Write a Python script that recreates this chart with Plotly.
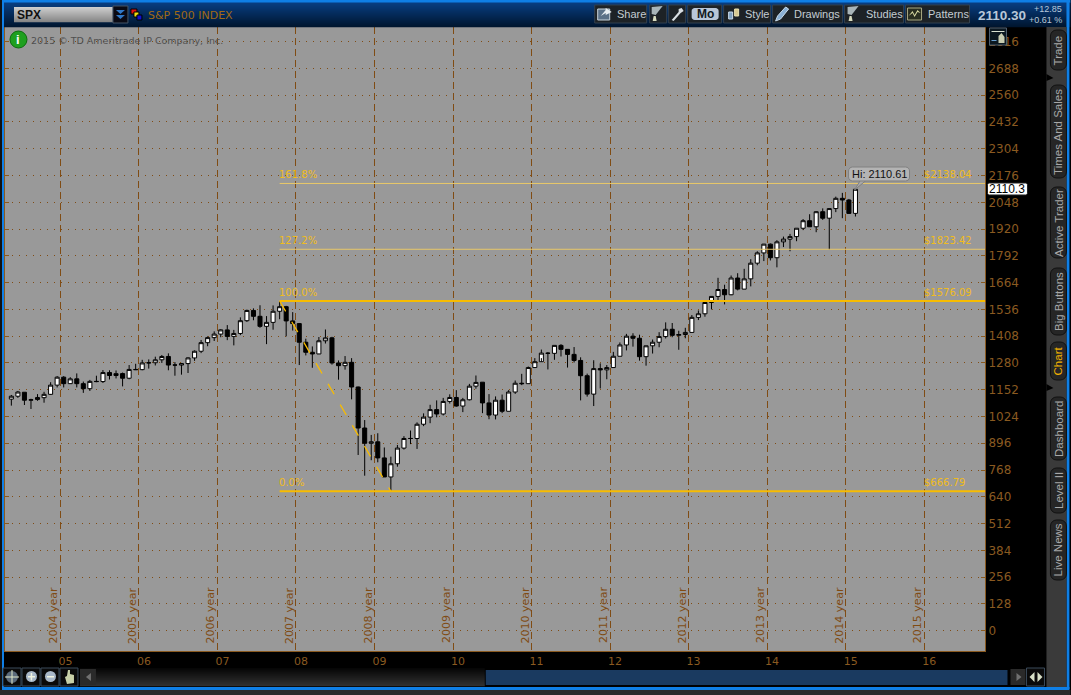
import numpy as np
import plotly.graph_objects as go

# monthly SPX candles, May 2004 .. Feb 2015
opens = [1107,1121,1140,1102,1105,1114,1130,1174,
         1212,1181,1204,1181,1157,1192,1191,1234,1220,1229,1207,1249,
         1248,1280,1281,1295,1311,1270,1270,1277,1304,1336,1377,1401,
         1418,1438,1407,1421,1482,1531,1503,1455,1474,1527,1549,1481,
         1468,1379,1331,1323,1386,1400,1280,1267,1283,1165,969,896,
         903,826,735,798,873,919,919,987,1021,1057,1036,1096,
         1115,1074,1104,1169,1188,1089,1031,1102,1049,1141,1183,1181,
         1258,1286,1327,1326,1364,1345,1321,1292,1219,1131,1253,1247,
         1258,1312,1366,1408,1398,1310,1362,1379,1406,1441,1412,1416,
         1426,1498,1515,1569,1598,1631,1606,1686,1633,1682,1757,1806,
         1848,1783,1859,1872,1884,1924,1960,1931,2003,1972,2018,2067,
         2059,1995]
highs = [1127,1146,1140,1109,1131,1142,1188,1217,
         1217,1212,1230,1191,1199,1219,1246,1245,1244,1234,1270,1276,
         1295,1297,1310,1318,1326,1284,1280,1307,1340,1390,1407,1431,
         1441,1461,1438,1498,1535,1541,1556,1504,1555,1576,1553,1523,
         1471,1396,1359,1404,1440,1405,1292,1313,1303,1167,1007,936,
         944,876,832,888,930,957,996,1039,1080,1101,1113,1130,
         1150,1113,1180,1220,1188,1131,1120,1129,1150,1196,1228,1263,
         1303,1344,1332,1364,1370,1346,1356,1307,1229,1293,1278,1270,
         1333,1378,1419,1422,1415,1363,1392,1427,1474,1471,1434,1448,
         1509,1531,1575,1597,1687,1654,1698,1709,1730,1776,1814,1849,
         1851,1867,1884,1897,1924,1968,1991,2005,2019,2018,2075,2093,
         2064,2110.61]
lows = [1076,1113,1079,1060,1099,1090,1127,1163,
        1163,1180,1163,1137,1146,1188,1184,1201,1206,1168,1202,1246,
        1245,1253,1268,1280,1245,1219,1224,1232,1290,1327,1360,1385,
        1403,1389,1364,1413,1476,1484,1448,1370,1439,1489,1407,1435,
        1270,1316,1257,1324,1373,1272,1200,1248,1106,840,741,815,
        805,735,667,784,866,892,869,978,992,1020,1029,1086,
        1071,1045,1101,1157,1040,1011,1010,1040,1049,1132,1174,1181,
        1257,1303,1249,1295,1311,1258,1282,1101,1119,1074,1158,1202,
        1258,1312,1340,1358,1291,1267,1325,1355,1397,1403,1343,1398,
        1426,1485,1501,1536,1581,1560,1604,1627,1633,1646,1747,1767,
        1770,1737,1834,1814,1862,1915,1930,1905,1964,1821,2001,1972,
        1993,1980]
closes = [1121,1141,1102,1104,1115,1130,1174,1212,
          1181,1204,1181,1157,1192,1191,1234,1220,1229,1207,1249,1248,
          1280,1281,1295,1311,1270,1270,1277,1304,1336,1377,1401,1418,
          1438,1407,1421,1482,1531,1503,1455,1474,1527,1549,1481,1468,
          1379,1331,1323,1386,1400,1280,1267,1283,1165,969,896,903,
          826,735,798,873,919,919,987,1021,1057,1036,1096,1115,
          1074,1104,1169,1187,1089,1031,1102,1049,1141,1183,1181,1258,
          1286,1327,1326,1364,1345,1321,1292,1219,1131,1253,1247,1258,
          1312,1366,1408,1398,1310,1362,1379,1406,1441,1412,1416,1426,
          1498,1515,1569,1598,1631,1606,1686,1633,1682,1757,1806,1848,
          1783,1859,1872,1884,1924,1960,1931,2003,1972,2018,2067,2059,
          1995,2110.30]

year_labels = ['05','06','07','08','09','10','11','12','13','14','15','16']
year_names = ['2004 year','2005 year','2006 year','2007 year','2008 year','2009 year',
              '2010 year','2011 year','2012 year','2013 year','2014 year','2015 year']
price_ticks = [128 * i for i in range(23)]

fib_names = ['161.8%','127.2%','100.0%','0.0%']
fib_values = [2138.04,1823.42,1576.09,666.79]
fib_prices = ['$2138.04','$1823.42','$1576.09','$666.79']

tab_names = ['Trade','Times And Sales','Active Trader','Big Buttons','Chart','Dashboard','Level II','Live News']
tab_tops = [30,85,187,268,342,397,468,520]
tab_bottoms = [70,178,258,335,380,460,513,580]

W, H = 1071, 695
L, R, T, B = 5, 985.5, 27, 651
BROWN = '#8a5a20'
GRID = '#804c14'
GOLD = '#f8bc00'
PALE = '#e8c868'


def xp(px):
    return (px - L) / (R - L)


def yp(py):
    return (B - py) / (B - T)


def rect(x0, y0, x1, y1, fill, line=None):
    return dict(type='rect', xref='paper', yref='paper', x0=xp(x0), x1=xp(x1), y0=yp(y0), y1=yp(y1),
                fillcolor=fill, line=dict(color=line or fill, width=1 if line else 0), layer='above')


def poly(points, fill, line=None, width=1):
    d = 'M' + ' L'.join(f'{xp(a):.5f},{yp(b):.5f}' for a, b in points) + ' Z'
    return dict(type='path', xref='paper', yref='paper', path=d, fillcolor=fill,
                line=dict(color=line or fill, width=width if line else 0), layer='above')


def rounded(x0, y0, x1, y1, r, fill, line=None):
    pts = []
    for cx, cy, a0 in [(x1 - r, y0 + r, -90), (x1 - r, y1 - r, 0), (x0 + r, y1 - r, 90), (x0 + r, y0 + r, 180)]:
        for a in np.radians(np.linspace(a0, a0 + 90, 5)):
            pts.append((cx + r * np.cos(a), cy + r * np.sin(a)))
    return poly(pts, fill, line)


def gradient(x0, y0, x1, y1, c0, c1):
    out = []
    rows = int(y1 - y0)
    for n in range(rows):
        t = n / max(rows - 1, 1)
        c = [round(a + (b - a) * t) for a, b in zip(c0, c1)]
        out.append(rect(x0, y0 + n, x1, y0 + n + 1.2, f'rgb({c[0]},{c[1]},{c[2]})'))
    return out


def label(px, py, text, size=11, color='#cccccc', anchor='left', bold=False, angle=0, font='Liberation Sans'):
    return dict(xref='paper', yref='paper', x=xp(px), y=yp(py), text=f'<b>{text}</b>' if bold else text,
                showarrow=False, xanchor=anchor, yanchor='middle', textangle=angle,
                font=dict(family=font, size=size, color=color))


x = np.arange(len(opens)) + 0.5
year_pos = [8 + 12 * i for i in range(len(year_labels))]

fig = go.Figure()
fig.add_trace(go.Candlestick(
    x=x, open=opens, high=highs, low=lows, close=closes,
    increasing=dict(fillcolor='white', line=dict(color='black', width=1)),
    decreasing=dict(fillcolor='black', line=dict(color='black', width=1)),
    whiskerwidth=0, hoverinfo='skip', showlegend=False,
))

# trend line from the 2007 high to the 2009 low
high_i = int(np.argmax(highs[:60]))
low_i = int(np.argmin(lows))
fig.add_trace(go.Scatter(
    x=[x[high_i], x[low_i]], y=[fib_values[2], fib_values[3]], mode='lines',
    line=dict(color=GOLD, width=1.3, dash='12px,12px'), hoverinfo='skip', showlegend=False,
))

# fibonacci levels
for name, val, price in zip(fib_names, fib_values, fib_prices):
    thick = name in ('100.0%', '0.0%')
    fig.add_trace(go.Scatter(
        x=[x[high_i], 149.3], y=[val, val], mode='lines',
        line=dict(color=GOLD if thick else PALE, width=2 if thick else 1),
        hoverinfo='skip', showlegend=False,
    ))

shapes = []
annotations = []

for name, val, price in zip(fib_names, fib_values, fib_prices):
    annotations.append(dict(x=x[high_i], y=val, text=name, showarrow=False, xanchor='left', yanchor='bottom',
                            xshift=-3, yshift=1, font=dict(family='DejaVu Sans', size=10, color='#f0bc20')))
    annotations.append(dict(x=year_pos[-1], y=val, text=price, showarrow=False, xanchor='left', yanchor='bottom',
                            xshift=-2, yshift=1, font=dict(family='DejaVu Sans', size=10, color='#f0bc20')))

for pos, name in zip(year_pos, year_names):
    annotations.append(dict(x=pos, y=yp(615), yref='paper', text=name, showarrow=False, textangle=-90,
                            xanchor='center', yanchor='middle', xshift=-7,
                            font=dict(family='DejaVu Sans', size=11, color=GRID)))

# frame: window edges and black side areas
shapes += gradient(0, 2, W, 27, (8, 62, 130), (0, 22, 48))
shapes.append(rect(0, 0, W, 2.5, '#0f7fe6'))
shapes.append(rect(0, 0, 2, H, '#111111'))
shapes.append(rect(2, 0, 4, 689, '#0f7fe6'))
shapes.append(rect(1067, 0, 1070, 689, '#0f7fe6'))
shapes.append(rect(2, 687, 1070, 690, '#0f7fe6'))
shapes.append(rect(0, 690, W, H, '#2a2a2a'))

# symbol box
shapes += gradient(14, 7, 113, 22, (205, 205, 205), (135, 135, 135))
shapes.append(rect(113, 6, 128, 23, '#0a0a14', '#445566'))
shapes.append(poly([(116, 10), (125, 10), (120.5, 14)], '#2f78c8'))
shapes.append(poly([(116, 15), (125, 15), (120.5, 19)], '#2f78c8'))
shapes.append(rect(131, 9, 137, 14, '#e01010', '#000000'))
shapes.append(rect(134, 12, 139, 17, '#f0e010', '#000000'))
shapes.append(rect(137, 15, 142, 20, '#1010d0', '#000000'))
annotations.append(label(15, 15, 'SPX', 12, '#111111', bold=True))
annotations.append(label(146, 15, 'S&amp;P 500 INDEX', 11, '#a06a14', font='DejaVu Sans'))

# toolbar
buttons = [(595, 647, 'Share', 615), (650, 667, '', 0), (669, 686, '', 0), (724, 771, 'Style', 743),
           (773, 843, 'Drawings', 792), (845, 904, 'Studies', 864), (906, 970, 'Patterns', 926)]
for b0, b1, text, tx in buttons:
    shapes.append(rect(b0, 5, b1, 23, '#1d2226', '#33414f'))
    if text:
        annotations.append(label(tx, 14, text, 11, '#c4ccd2'))
shapes.append(rect(688, 5, 722, 23, '#1d2226', '#33414f'))
shapes.append(rounded(692, 8, 719, 20, 3, '#b8c6d8'))
annotations.append(label(705.5, 14, 'Mo', 12, '#111820', anchor='center', bold=True))

# toolbar icons
shapes.append(rect(598, 9, 610, 20, '#5c7288', '#c8d4dc'))
shapes.append(poly([(601, 16), (606, 10), (606, 8), (612, 12), (606, 15), (606, 13)], '#e8eef2'))
for x0 in (652, 848):
    shapes.append(poly([(x0, 7), (x0 + 11, 6), (x0 + 4, 15), (x0, 14)], '#a8b4b8'))
    shapes.append(poly([(x0 + 2, 16), (x0 + 4, 16), (x0 + 5, 21), (x0 + 1, 21)], '#d8dcc0'))
shapes.append(poly([(672, 20), (674, 21), (681, 13), (684, 11), (682, 8), (679, 9), (679, 12)], '#d8dee2'))
shapes.append(rect(729, 12, 733, 19, '#7ea0c0', '#c8d8e8'))
shapes.append(rect(735, 9, 739, 16, '#d8c890', '#e8e0b0'))
shapes.append(poly([(776, 21), (778, 16), (786, 7), (789, 9), (781, 19)], '#8ab0d4', '#c8dcec'))
shapes.append(rect(908, 8, 922, 20, '#2a2e20', '#a8a880'))
shapes.append(poly([(909, 16), (913, 11), (915, 15), (918, 10), (921, 13), (918, 12), (915, 17), (913, 13)], '#d8d8a0'))

annotations.append(label(976, 15, '2110.30', 13.5, '#b8c8d8', bold=True))
annotations.append(label(1065, 9, '+12.85', 9, '#b8c8d8', anchor='right'))
annotations.append(label(1065, 20, '+0.61 %', 9, '#b8c8d8', anchor='right'))

# info badge and copyright
shapes.append(dict(type='circle', xref='paper', yref='paper', x0=xp(10), x1=xp(27), y0=yp(31), y1=yp(48),
                   fillcolor='#1fa01f', line=dict(color='#0c6c0c', width=1), layer='above'))
annotations.append(label(18.5, 39, 'i', 13, 'white', anchor='center', bold=True))
annotations.append(label(29, 40, '2015 © TD Ameritrade IP Company, Inc.', 9.5, '#505050', font='DejaVu Sans'))

# cursor icon in the price scale
shapes.append(rect(990, 28, 1007, 45, '#0c1820', '#506070'))
shapes.append(rect(992, 31, 1005, 32, '#d8e0d0'))
shapes.append(poly([(999, 36), (1002, 33), (1005, 37), (1005, 43), (999, 43)], '#c8ccb0'))
shapes.append(rect(992, 40, 997, 41, '#6aa0d0'))

# last price flag and high callout
shapes.append(rounded(988, 183, 1028, 195, 2, 'white', '#202020'))
annotations.append(label(1008, 189, '2110.3', 12, 'black', anchor='center'))
shapes.append(poly([(855, 190), (861, 180), (867, 180)], '#a8a8a8', '#808080'))
shapes.append(rounded(849, 167, 910, 181, 4, '#b4b4b4', '#808080'))
annotations.append(label(879.5, 174, 'Hi: 2110.61', 11, '#111111', anchor='center'))

# right tab column
shapes.append(rect(1047, 27, 1067, 687, '#3a3a3a'))
for name, t0, t1 in zip(tab_names, tab_tops, tab_bottoms):
    shapes.append(rounded(1051, t0, 1067, t1, 6, '#262626', '#111111'))
    annotations.append(label(1059, (t0 + t1) / 2, name, 11.5, '#f0b000' if name == 'Chart' else '#a8a8a8',
                             anchor='center', angle=-90))
for ny in (78, 388):
    shapes.append(poly([(1047, ny - 4), (1054, ny), (1047, ny + 3)], 'black'))

# bottom bar
shapes += gradient(80, 668, 485, 686, (6, 6, 6), (48, 48, 48))
for b0, mark in [(3, 'c'), (22, '+'), (41, '-'), (60, 'h')]:
    shapes.append(rect(b0, 668, b0 + 18, 686, '#0a0a0a', '#3a4a5a'))
    if mark == 'c':
        shapes.append(dict(type='circle', xref='paper', yref='paper', x0=xp(b0 + 3), x1=xp(b0 + 15), y0=yp(671),
                           y1=yp(683), fillcolor='#5a6a7a', line=dict(width=0), layer='above'))
        shapes.append(rect(b0 + 8.5, 670, b0 + 9.5, 684, '#e0e8c8'))
        shapes.append(rect(b0 + 2, 676.5, b0 + 16, 677.5, '#e0e8c8'))
    elif mark in '+-':
        shapes.append(dict(type='circle', xref='paper', yref='paper', x0=xp(b0 + 4), x1=xp(b0 + 15), y0=yp(671),
                           y1=yp(682), fillcolor='#a8b8c8', line=dict(width=0), layer='above'))
        shapes.append(rect(b0 + 6, 676, b0 + 13, 677.5, '#f0f4e0'))
        if mark == '+':
            shapes.append(rect(b0 + 8.7, 673, b0 + 10.2, 680.5, '#f0f4e0'))
    else:
        shapes.append(poly([(b0 + 5, 677), (b0 + 7, 676), (b0 + 8, 670), (b0 + 10, 670), (b0 + 10, 674),
                            (b0 + 14, 675), (b0 + 14, 683), (b0 + 7, 684)], '#c8d0a8'))
shapes.append(rect(80, 669, 96, 685, '#2a2a2a'))
shapes.append(poly([(91, 673), (91, 681), (86, 677)], '#707070'))
shapes.append(rect(486, 670, 1008, 685, '#1a3a60'))
shapes.append(rect(1011, 669, 1026, 685, '#2a2a2a'))
shapes.append(poly([(1017, 673), (1017, 681), (1022, 677)], '#707070'))
shapes.append(rect(1027, 668, 1045, 686, '#0a0a0a', '#3a4a5a'))
shapes.append(poly([(1035, 672), (1035, 682), (1030, 677)], '#d8e0c8'))
shapes.append(poly([(1038, 672), (1038, 682), (1043, 677)], '#d8e0c8'))

fig.update_layout(
    width=W, height=H,
    margin=dict(l=L, r=W - R, t=T, b=H - B, pad=0),
    paper_bgcolor='black', plot_bgcolor='#999999',
    font=dict(family='Liberation Sans', size=12, color=BROWN),
    showlegend=False, hovermode=False, boxgap=0.12,
    shapes=shapes, annotations=annotations,
    xaxis=dict(
        range=[-0.47, 149.3], tickvals=year_pos, ticktext=year_labels, ticks='',
        showgrid=True, gridcolor=GRID, griddash='7px,4px', gridwidth=1.3, zeroline=False,
        showline=True, linecolor=BROWN, mirror=True, rangeslider=dict(visible=False),
        ticklabelshift=5, tickfont=dict(family='DejaVu Sans', size=11, color=BROWN),
    ),
    yaxis=dict(
        range=[-97, 2886], side='right', tickvals=price_ticks, ticks='inside', ticklen=4, tickcolor=BROWN,
        showgrid=True, gridcolor=GRID, griddash='1px,6px', gridwidth=1, zeroline=False,
        showline=True, linecolor=BROWN, mirror='ticks',
        tickfont=dict(family='DejaVu Sans', size=12, color=BROWN),
    ),
)

fig.write_html('out.html', config=dict(displayModeBar=False),
               post_script="document.body.style.margin='0';document.body.style.overflow='hidden';")
